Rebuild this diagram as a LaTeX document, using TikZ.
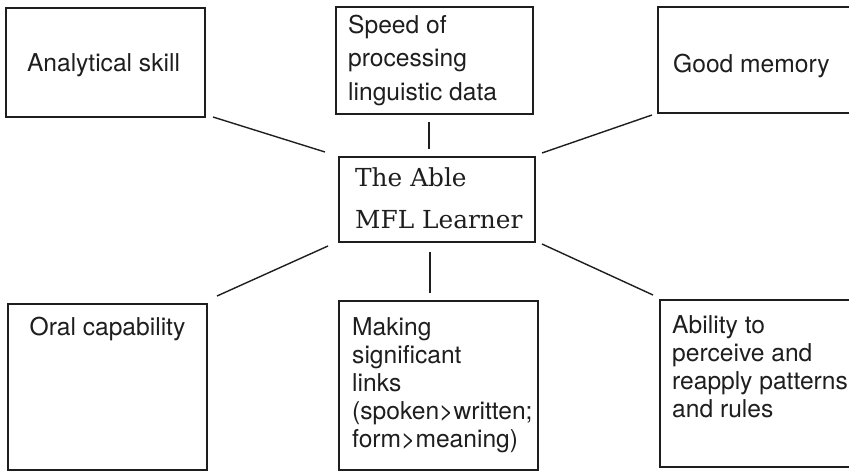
\documentclass[tikz,border=0pt]{standalone}
\usepackage{fontspec}
\newfontfamily\labelsans{TeX Gyre Heros}
\newfontfamily\titleserif{DejaVu Serif}
\newcommand\mystack[2]{\vtop{\baselineskip=#1pt\lineskiplimit=-100pt\halign{##\hfil\cr#2\cr}}}
\definecolor{ink}{HTML}{1E1E1E}
\begin{document}
\begin{tikzpicture}[x=1pt,y=-1pt,
  box/.style={draw=ink, line width=1.6pt, inner sep=0pt, anchor=north west},
  link/.style={draw=ink, line width=1.4pt},
  lbl/.style={font=\labelsans\fontsize{24.6}{30}\selectfont, text=ink, inner sep=0pt, anchor=base west},
  ttl/.style={font=\titleserif\fontsize{24.8}{42}\selectfont, text=ink, inner sep=0pt, anchor=base west}]
\useasboundingbox (0,0) rectangle (849,471);
\clip (0,0) rectangle (849,471);
% boxes
\node[box, minimum width=199pt, minimum height=109pt] (b1) at (5,7) {};
\node[box, minimum width=197pt, minimum height=107pt] (b2) at (335,6) {};
\node[box, minimum width=205pt, minimum height=106pt] (b3) at (657,6) {};
\node[box, minimum width=196pt, minimum height=85pt] (c) at (338,156) {};
\node[box, minimum width=199pt, minimum height=166pt] (b4) at (7,303) {};
\node[box, minimum width=199pt, minimum height=169pt] (b5) at (338,300) {};
\node[box, minimum width=203pt, minimum height=167pt] (b6) at (659,299) {};
% texts
\node[lbl, anchor=base] (t1) at (103.5,71) {Analytical skill};
\node[lbl] (t2) at (348,33) {\mystack{33.5}{Speed of\cr processing\cr linguistic data}};
\node[lbl] (t3) at (673,72) {Good memory};
\node[ttl] (tc) at (355,186) {\mystack{42}{The Able\cr MFL Learner}};
\node[lbl, anchor=base] (t4) at (107.5,335) {Oral capability};
\node[lbl] (t5) at (352,335) {\mystack{28}{Making\cr significant\cr links\cr (spoken>written;\cr form>meaning)}};
\node[lbl] (t6) at (672,333) {\mystack{28.3}{Ability to\cr perceive and\cr reapply patterns\cr and rules}};
% connector ends
\coordinate (l1a) at (213,117); \coordinate (l1b) at (325,152);
\coordinate (l2a) at (429,122); \coordinate (l2b) at (429,149);
\coordinate (l3a) at (652,115); \coordinate (l3b) at (542,153);
\coordinate (l4a) at (217,296); \coordinate (l4b) at (328,246);
\coordinate (l5a) at (430,293); \coordinate (l5b) at (430,252);
\coordinate (l6a) at (653,295); \coordinate (l6b) at (542,244);
\draw[link] (l1a) -- (l1b);
\draw[link] (l2a) -- (l2b);
\draw[link] (l3a) -- (l3b);
\draw[link] (l4a) -- (l4b);
\draw[link] (l5a) -- (l5b);
\draw[link] (l6a) -- (l6b);
\end{tikzpicture}
\end{document}
